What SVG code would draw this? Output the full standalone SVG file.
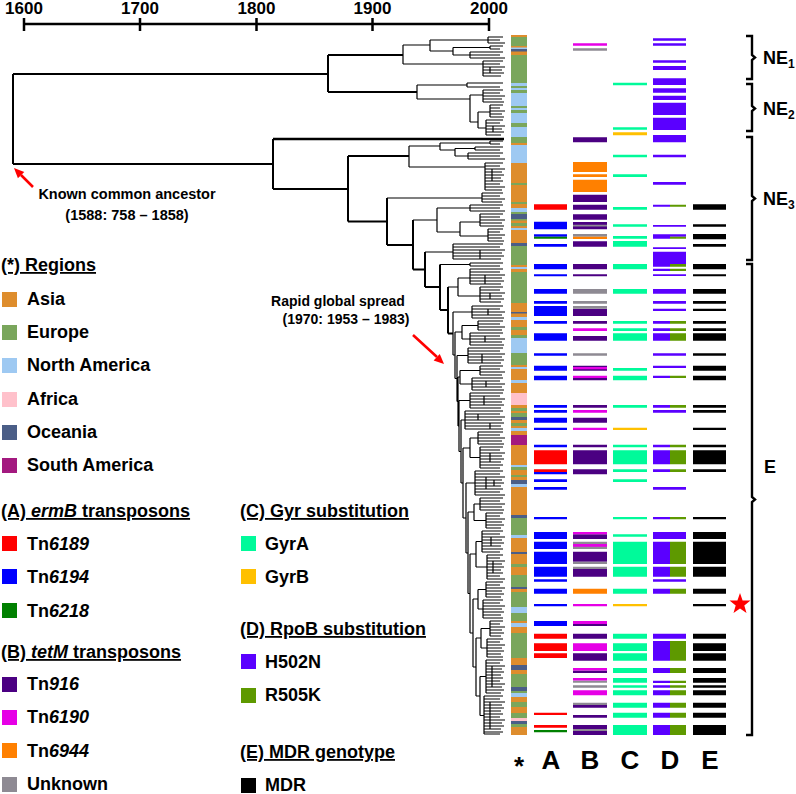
<svg xmlns="http://www.w3.org/2000/svg" width="796" height="794" viewBox="0 0 796 794">
<style>
.lb{font-family:"Liberation Sans",Arial,Helvetica,sans-serif;font-weight:bold;font-size:18px;fill:#000}
.hd{text-decoration:underline}
.an{font-family:"Liberation Sans",Arial,Helvetica,sans-serif;font-weight:bold;font-size:14px;fill:#000;text-anchor:middle}
.ax{font-family:"Liberation Sans",Arial,Helvetica,sans-serif;font-weight:bold;font-size:17px;fill:#000;text-anchor:middle}
.big{font-family:"Liberation Sans",Arial,Helvetica,sans-serif;font-weight:bold;font-size:26px;fill:#000;text-anchor:middle}
.tree{fill:none;stroke:#000;stroke-width:1.2}
.trunk{fill:none;stroke:#000;stroke-width:2}
.br{fill:none;stroke:#000;stroke-width:2.4}
.as{fill:#DE8D2D}.eu{fill:#7AA65C}.na{fill:#9EC9F2}.af{fill:#FFC1CB}.oc{fill:#4B5E87}.sa{fill:#A3197F}
.rd{fill:#FF0000}.bl{fill:#0000FF}.gn{fill:#008000}.t9{fill:#4B0082}.mg{fill:#E600E6}.or{fill:#FF8000}.gy{fill:#8E8A93}
.ga{fill:#00FA9A}.gb{fill:#FFC000}.h5{fill:#5A00FF}.r5{fill:#5E9900}.k{fill:#000}
</style>
<rect width="796" height="794" fill="#fff"/>
<g id="axis">
<path d="M24,24H489M24,18V31M140,18V31M256.5,18V31M372.5,18V31M489,18V31" fill="none" stroke="#000" stroke-width="2.5"/>
<text class="ax" x="24" y="14">1600</text><text class="ax" x="140" y="14">1700</text><text class="ax" x="256.5" y="14">1800</text><text class="ax" x="372.5" y="14">1900</text><text class="ax" x="489" y="14">2000</text>
</g>
<g id="tree">
<path class="trunk" d="M13,74V164M13,74H328M13,164H273M328,55V92M328,55H403M328,92H417M273,139V189M273,189H348M348,156V221.5M348,156H409M348,221.5H387M387,198V245M387,245H413M413,220V269.5M413,269.5H425M425,252V287M425,287H440M440,264.5V310M440,310H448M448,287V333.5M448,333.5H453"/>
<path d="M273,139H504" stroke="#000" stroke-width="2.4"/>
<path class="tree" d="M403,45V64M403,45H430M403,64H483M430,40V51M430,40H488M430,51H453M488,37V43M488,37H503M488,40H500M488,43H505M453,47.5V55M453,47.5H490M453,55H470M490,46V49M490,46H503M490,49H500M470,52V58M470,52H503M470,55H500M470,58H505M483,61V76M483,61H503M483,64H500M483,67H505M483,70H502M483,73H504M483,76H501M490,67V73
M417,85V99M417,85H467M417,99H470M467,83V87M467,83H503M467,87H500M470,95V122M470,95H483M470,122H478M483,90V102M483,90H503M483,93H500M483,96H505M483,99H502M483,102H504M478,112V128M478,112H490M478,128H486M490,105V117M490,105H503M490,108H500M490,111H505M490,114H502M490,117H504M486,120V135M486,120H503M486,123H500M486,126H505M486,129H502M486,132H504M486,135H501M493,126V132
M409,146V167M409,146H440M409,167H485M440,143V150M440,143H490M440,150H455M490,141V144M490,141H503M490,144H500M455,148.5V156M455,148.5H475M455,156H468M475,147V150M475,147H503M475,150H500M468,153V159M468,153H503M468,156H500M468,159H505M485,163V190M485,163H503M485,166H500M485,169H505M485,172H502M485,175H504M485,178H501M485,181H503M485,184H500M485,187H505M485,190H502M492,169V181
M387,198H482M482,193V202M482,193H503M482,196H500M482,199H505M482,202H502M413,220H437M437,208V232M437,208H470M437,232H460M470,205V211M470,205H503M470,208H500M470,211H505M460,222V236M460,222H480M460,236H488M480,214V226M480,214H503M480,217H500M480,220H505M480,223H502M480,226H504M488,229V241M488,229H503M488,232H500M488,235H505M488,238H502M488,241H504
M425,252H453M453,244V259M453,244H503M453,247H500M453,250H505M453,253H502M453,256H504M453,259H501M480,250V259M440,264.5H470M470,263V266M470,263H503M470,266H500M448,287H458M458,278V296M458,278H470M458,296H480M470,269V284M470,269H503M470,272H500M470,275H505M470,278H502M470,281H504M470,284H501M485,275V284M480,287V302M480,287H503M480,290H500M480,293H505M480,296H502M480,299H504M480,302H501M490,293V299
M453,312V355M453,312H472M453,355H455M455,332V378.5M455,332H462M455,378.5H457M457,355.5V401.5M457,355.5H468M457,401.5H458M458,377V426M458,377H460M458,426H459M459,400.5V451.5M459,400.5H470M459,451.5H461M461,420V483M461,420H465M461,483H463M463,448V518M463,448H470M463,518H466M466,483V553M466,483H475M466,553H468M468,512V593.5M468,512H474M468,593.5H470M470,554V633M470,554H476M470,633H473M473,599V667M473,599H478M473,667H476M476,638V696M476,638H481M476,696H480
M472,306V318M472,306H503M472,309H500M472,312H505M472,315H502M472,318H504M488,309V315
M462,325.5V339M462,325.5H478M462,339H470M478,321V330M478,321H503M478,324H500M478,327H505M478,330H502M470,333V345M470,333H503M470,336H500M470,339H505M470,342H502M470,345H504M485,336V342
M468,348V363M468,348H503M468,351H500M468,354H505M468,357H502M468,360H504M468,363H501M482,354V363
M460,370.5V384M460,370.5H480M460,384H472M480,366V375M480,366H503M480,369H500M480,372H505M480,375H502M472,378V390M472,378H503M472,381H500M472,384H505M472,387H502M472,390H504M486,381V387
M470,393V408M470,393H503M470,396H500M470,399H505M470,402H502M470,405H504M470,408H501M484,396V405
M465,411V429M465,411H503M465,414H500M465,417H505M465,420H502M465,423H504M465,426H501M465,429H503M478,414V420M490,423V429
M470,438V457.5M470,438H478M470,457.5H480M478,432V444M478,432H503M478,435H500M478,438H505M478,441H502M478,444H504M480,447V468M480,447H503M480,450H500M480,453H505M480,456H502M480,459H504M480,462H501M480,465H503M480,468H500M490,453V462
M475,471V495M475,471H503M475,474H500M475,477H505M475,480H502M475,483H504M475,486H501M475,489H503M475,492H500M475,495H505M486,477V489M494,480V486
M474,504V520.5M474,504H480M474,520.5H486M480,498V510M480,498H503M480,501H500M480,504H505M480,507H502M480,510H504M486,513V528M486,513H503M486,516H500M486,519H505M486,522H502M486,525H504M486,528H501
M476,541.5V567M476,541.5H482M476,567H487M482,531V552M482,531H503M482,534H500M482,537H505M482,540H502M482,543H504M482,546H501M482,549H503M482,552H500M491,537V546M487,555V579M487,555H503M487,558H500M487,561H505M487,564H502M487,567H504M487,570H501M487,573H503M487,576H500M487,579H505M493,561V573
M478,589.5V609M478,589.5H486M478,609H483M486,582V597M486,582H503M486,585H500M486,588H505M486,591H502M486,594H504M486,597H501M483,600V618M483,600H503M483,603H500M483,606H505M483,609H502M483,612H504M483,615H501M483,618H503
M481,628.5V648M481,628.5H490M481,648H487M490,621V636M490,621H503M490,624H500M490,627H505M490,630H502M490,633H504M490,636H501M487,639V657M487,639H503M487,642H500M487,645H505M487,648H502M487,651H504M487,654H501M487,657H503
M480,676.5V715.5M480,676.5H486M480,715.5H484M486,660V693M486,660H503M486,663H500M486,666H505M486,669H502M486,672H504M486,675H501M486,678H503M486,681H500M486,684H505M486,687H502M486,690H504M486,693H501M492,666V687M484,696V734M484,696H503M484,699H500M484,702H505M484,705H502M484,708H504M484,711H501M484,714H503M484,717H500M484,720H505M484,723H502M484,726H504M484,729H501M484,732H503M484,734H500M490,702V729"/>
</g>
<g id="region-column">
<path class="as" d="M511,35h16v700h-16z"/>
<path class="eu" d="M511,37h16v9h-16zM511,55h16v28h-16zM511,86h16v2h-16zM511,90h16v3h-16zM511,106h16v2h-16zM511,110h16v3h-16zM511,123h16v4h-16zM511,137h16v6h-16zM511,183h16v2h-16zM511,202h16v2h-16zM511,212h16v2h-16zM511,219h16v1.5h-16zM511,223h16v3h-16zM511,246h16v19h-16zM511,272h16v31h-16zM511,327h16v3h-16zM511,335h16v3h-16zM511,353h16v12h-16zM511,408h16v3h-16zM511,413h16v4h-16zM511,423h16v3h-16zM511,467h16v3h-16zM511,475h16v2h-16zM511,518h16v17h-16zM511,564h16v3h-16zM511,575h16v12h-16zM511,592h16v15h-16zM511,613h16v8h-16zM511,633h16v25h-16zM511,674h16v13h-16zM511,691h16v2h-16zM511,702h16v5h-16zM511,713h16v5h-16zM511,724h16v3h-16z"/>
<path class="na" d="M511,47.5h16v1.5h-16zM511,83h16v3h-16zM511,88h16v2h-16zM511,93h16v13h-16zM511,108h16v2h-16zM511,113h16v10h-16zM511,127h16v10h-16zM511,145h16v18h-16zM511,208h16v4h-16zM511,228h16v2h-16zM511,267h16v2h-16zM511,317h16v3h-16zM511,338h16v15h-16zM511,367h16v2h-16zM511,380h16v3h-16zM511,428h16v3h-16zM511,465h16v2h-16zM511,484h16v3h-16zM511,535h16v3h-16zM511,607h16v6h-16zM511,623h16v4h-16zM511,693h16v4h-16z"/>
<path class="oc" d="M511,49h16v2.5h-16zM511,214h16v5h-16zM511,243h16v3h-16zM511,312h16v1.5h-16zM511,417h16v3h-16zM511,480h16v4h-16zM511,515h16v3h-16zM511,552h16v2h-16zM511,587h16v2h-16zM511,665h16v5h-16zM511,687h16v4h-16zM511,721h16v3h-16z"/>
<path class="af" d="M511,393h16v12h-16zM511,718h16v3h-16z"/>
<path class="sa" d="M511,435h16v10h-16z"/>
</g>
<g id="col-A">
<path class="rd" d="M534,204.3h33v5.4h-33zM534,450.3h33v14h-33zM534,469.3h33v2.7h-33zM534,633.7h33v5h-33zM534,643.3h33v7.7h-33zM534,653.3h33v4.7h-33zM534,712.7h33v2.3h-33zM534,725h33v2.7h-33z"/>
<path class="bl" d="M534,221.7h33v7.6h-33zM534,234.3h33v2.4h-33zM534,244h33v2.7h-33zM534,264h33v5.3h-33zM534,274.3h33v2h-33zM534,289h33v4.7h-33zM534,301h33v2.7h-33zM534,306h33v10h-33zM534,321h33v2.7h-33zM534,333.3h33v7.4h-33zM534,353.3h33v2.4h-33zM534,365.7h33v5h-33zM534,375.7h33v4.6h-33zM534,405h33v2.7h-33zM534,410h33v2.7h-33zM534,417.7h33v5h-33zM534,427.7h33v2.3h-33zM534,444.7h33v2.6h-33zM534,472h33v2.3h-33zM534,479.3h33v2.7h-33zM534,487h33v2.7h-33zM534,517h33v2.3h-33zM534,532h33v7h-33zM534,541.7h33v7.3h-33zM534,551.7h33v12.3h-33zM534,566.7h33v10h-33zM534,579.3h33v2.4h-33zM534,588.7h33v5h-33zM534,604h33v2.3h-33zM534,621h33v5h-33z"/>
<path class="gn" d="M534,236.7h33v2h-33zM534,730h33v2.3h-33z"/>
</g>
<g id="col-B">
<path class="t9" d="M573,137.3h34v5h-34zM573,194.7h34v7.3h-34zM573,204.7h34v5h-34zM573,214.3h34v5.4h-34zM573,222h34v7.3h-34zM573,241.3h34v5.4h-34zM573,264h34v5.3h-34zM573,274.3h34v2h-34zM573,308.7h34v7.3h-34zM573,321h34v2.7h-34zM573,336h34v4.7h-34zM573,365.7h34v5h-34zM573,378h34v2.3h-34zM573,405h34v2.7h-34zM573,417.7h34v5h-34zM573,444.7h34v2.6h-34zM573,450.3h34v14h-34zM573,469.3h34v5h-34zM573,534.3h34v4.7h-34zM573,551.7h34v10h-34zM573,569h34v7.7h-34zM573,624h34v2h-34zM573,633.7h34v5h-34zM573,653.3h34v7.4h-34zM573,670.5h34v2.5h-34zM573,705h34v2.7h-34zM573,715h34v2.7h-34zM573,725h34v4h-34zM573,731h34v4h-34z"/>
<path class="gy" d="M573,48.3h34v2.4h-34zM573,224.8h34v1.7h-34zM573,234h34v2.7h-34zM573,289h34v4.7h-34zM573,301h34v2.7h-34zM573,306h34v2.7h-34zM573,353.3h34v2.4h-34zM573,541.7h34v7.3h-34zM573,561.7h34v2.3h-34zM573,566.7h34v2.3h-34zM573,680.5h34v2.2h-34zM573,685.3h34v2.4h-34zM573,702.7h34v2.3h-34zM573,729h34v2h-34z"/>
<path class="mg" d="M573,43.3h34v2.4h-34zM573,328.3h34v2.7h-34zM573,367h34v2.3h-34zM573,375.7h34v2.3h-34zM573,410h34v2.7h-34zM573,427.7h34v2.3h-34zM573,532h34v2.3h-34zM573,544h34v2.7h-34zM573,604h34v2.3h-34zM573,621h34v3h-34zM573,643.3h34v7.7h-34zM573,668h34v2.5h-34zM573,678h34v2.5h-34zM573,690.3h34v5h-34z"/>
<path class="or" d="M573,162h34v10h-34zM573,174.3h34v2.7h-34zM573,179.7h34v12.3h-34zM573,236.7h34v2.3h-34zM573,588.7h34v5h-34z"/>
</g>
<g id="col-C">
<path class="ga" d="M613,82.7h34v2.6h-34zM613,127.3h34v2.4h-34zM613,154.7h34v2.6h-34zM613,174.3h34v2.7h-34zM613,207h34v2.7h-34zM613,224.3h34v2.4h-34zM613,236h34v2.7h-34zM613,241h34v5.7h-34zM613,264h34v5.3h-34zM613,289h34v4.7h-34zM613,321h34v2.7h-34zM613,328.3h34v2.7h-34zM613,333.3h34v7.4h-34zM613,368h34v2.7h-34zM613,375.7h34v4.6h-34zM613,405h34v2.7h-34zM613,444.7h34v2.6h-34zM613,450.3h34v14h-34zM613,469.3h34v2.7h-34zM613,479.3h34v2.7h-34zM613,517h34v2.3h-34zM613,534.3h34v2.4h-34zM613,541.7h34v22.3h-34zM613,566.7h34v10h-34zM613,588.7h34v5h-34zM613,633.7h34v5h-34zM613,643.3h34v7.7h-34zM613,653.3h34v7.4h-34zM613,668h34v5h-34zM613,678h34v4.7h-34zM613,685.3h34v2.4h-34zM613,690.3h34v5h-34zM613,702.7h34v5h-34zM613,712.7h34v5h-34zM613,725h34v10h-34z"/>
<path class="gb" d="M613,132.3h34v3h-34zM613,427.7h34v2.3h-34zM613,604h34v2.3h-34z"/>
</g>
<g id="col-D">
<path class="h5" d="M653,38.3h33v2.4h-33zM653,43.3h33v2.4h-33zM653,60.3h33v2.4h-33zM653,66h33v4h-33zM653,78.3h33v6.7h-33zM653,88.3h33v4.4h-33zM653,95.7h33v4.3h-33zM653,102.7h33v12.3h-33zM653,117.7h33v12.3h-33zM653,135h33v7.3h-33zM653,154.7h33v2.6h-33zM653,182h33v2.7h-33zM653,225h33v1.7h-33zM653,234.3h33v2.4h-33zM653,247.3h33v1.7h-33zM653,251.7h33v12.3h-33zM653,274.3h33v1.7h-33zM653,289h33v4.7h-33zM653,301h33v2.7h-33zM653,308.7h33v2.3h-33zM653,353.3h33v2.4h-33zM653,365.7h33v2.3h-33zM653,410h33v2.7h-33zM653,487h33v2.7h-33zM653,532h33v7h-33zM653,579.3h33v2.4h-33zM653,633.7h33v5h-33z
M653,204.7h17v2h-17zM653,236.7h17v2h-17zM653,264h17v2.7h-17zM653,268.7h17v2.3h-17zM653,321h17v2.7h-17zM653,328.3h17v2.7h-17zM653,333.3h17v7.4h-17zM653,375.7h17v2.3h-17zM653,405h17v2.7h-17zM653,444.7h17v2.6h-17zM653,450.3h17v14h-17zM653,469.3h17v2.7h-17zM653,517h17v2.3h-17zM653,541.7h17v22.3h-17zM653,566.7h17v10h-17zM653,588.7h17v5h-17zM653,641h17v19.7h-17zM653,668h17v5h-17zM653,680.7h17v2.3h-17zM653,685.3h17v2.4h-17zM653,690.3h17v5h-17zM653,702.7h17v5h-17zM653,712.7h17v5h-17zM653,725h17v10h-17z"/>
<path class="r5" d="M670,204.7h16v2h-16zM670,236.7h16v2h-16zM670,264h16v2.7h-16zM670,268.7h16v2.3h-16zM670,321h16v2.7h-16zM670,328.3h16v2.7h-16zM670,333.3h16v7.4h-16zM670,375.7h16v2.3h-16zM670,405h16v2.7h-16zM670,444.7h16v2.6h-16zM670,450.3h16v14h-16zM670,469.3h16v2.7h-16zM670,517h16v2.3h-16zM670,541.7h16v22.3h-16zM670,566.7h16v10h-16zM670,588.7h16v5h-16zM670,641h16v19.7h-16zM670,668h16v5h-16zM670,680.7h16v2.3h-16zM670,685.3h16v2.4h-16zM670,690.3h16v5h-16zM670,702.7h16v5h-16zM670,712.7h16v5h-16zM670,725h16v10h-16z"/>
</g>
<g id="col-E">
<path class="k" d="M693,204.3h33v5.4h-33zM693,224.3h33v2.4h-33zM693,234h33v5.3h-33zM693,244h33v2.7h-33zM693,264h33v5.3h-33zM693,274.3h33v2h-33zM693,289h33v4.7h-33zM693,301h33v2.7h-33zM693,308.7h33v2.3h-33zM693,321h33v2.7h-33zM693,328.3h33v2.7h-33zM693,333.3h33v7.4h-33zM693,353.3h33v2.4h-33zM693,365.7h33v5h-33zM693,375.7h33v4.6h-33zM693,405h33v2.7h-33zM693,410h33v2.7h-33zM693,427.7h33v2.3h-33zM693,444.7h33v2.6h-33zM693,450.3h33v14h-33zM693,469.3h33v2.7h-33zM693,517h33v2.3h-33zM693,532h33v7h-33zM693,541.7h33v22.3h-33zM693,566.7h33v10h-33zM693,588.7h33v5h-33zM693,604h33v2.3h-33zM693,633.7h33v5h-33zM693,643.3h33v7.7h-33zM693,653.3h33v7.4h-33zM693,668h33v5h-33zM693,678h33v4.7h-33zM693,685.3h33v2.4h-33zM693,690.3h33v5h-33zM693,702.7h33v5h-33zM693,712.7h33v5h-33zM693,725h33v10h-33z"/>
</g>
<g id="column-labels">
<text class="big" x="519" y="775">*</text><text class="big" x="551" y="769">A</text><text class="big" x="590" y="769">B</text><text class="big" x="630" y="769">C</text><text class="big" x="670" y="769">D</text><text class="big" x="710" y="769">E</text>
</g>
<g id="clade-brackets">
<path class="br" d="M746,36H752V55L755,57.5L752,60V79H746M746,84H752V106L755,108.5L752,111V131H746M746,137H752V196L755,198.5L752,201V260H746M746,264H752V497L755,499.5L752,502V735H746"/>
<text class="lb" x="763" y="64">NE<tspan font-size="12" dy="4">1</tspan></text>
<text class="lb" x="763" y="115">NE<tspan font-size="12" dy="4">2</tspan></text>
<text class="lb" x="763" y="205">NE<tspan font-size="12" dy="4">3</tspan></text>
<text class="lb" x="764" y="473">E</text>
</g>
<g id="star"><polygon class="rd" points="740,593 742.6,600.4 750.5,600.6 744.3,605.4 746.5,612.9 740,608.5 733.5,612.9 735.7,605.4 729.5,600.6 737.4,600.4"/></g>
<g id="annotations">
<path d="M33,187L21,175M413,335L437,357" stroke="#FF0000" stroke-width="2.6" fill="none"/>
<polygon class="rd" points="14,168 24.3,171.9 17.9,178.3"/>
<polygon class="rd" points="444,364 433.6,360.5 439.8,353.9"/>
<text class="an" x="127" y="199" style="font-size:14.5px">Known common ancestor</text>
<text class="an" x="127" y="220" style="font-size:14.5px">(1588: 758 – 1858)</text>
<text class="an" x="338" y="306">Rapid global spread</text>
<text class="an" x="346" y="324">(1970: 1953 – 1983)</text>
</g>
<g id="legend-regions">
<text class="lb hd" x="1" y="271">(*) Regions</text>
<rect class="as" x="2" y="292" width="15" height="15"/><text class="lb" x="27" y="305">Asia</text>
<rect class="eu" x="2" y="325" width="15" height="15"/><text class="lb" x="27" y="338">Europe</text>
<rect class="na" x="2" y="358" width="15" height="15"/><text class="lb" x="27" y="371">North America</text>
<rect class="af" x="2" y="392" width="15" height="15"/><text class="lb" x="27" y="405">Africa</text>
<rect class="oc" x="2" y="425" width="15" height="15"/><text class="lb" x="27" y="438">Oceania</text>
<rect class="sa" x="2" y="458" width="15" height="15"/><text class="lb" x="27" y="471">South America</text>
</g>
<g id="legend-A">
<text class="lb hd" x="1" y="517">(A) <tspan font-style="italic">ermB</tspan> transposons</text>
<rect class="rd" x="2" y="536" width="15" height="15"/><text class="lb" x="27" y="550">Tn<tspan font-style="italic">6189</tspan></text>
<rect class="bl" x="2" y="569" width="15" height="15"/><text class="lb" x="27" y="583">Tn<tspan font-style="italic">6194</tspan></text>
<rect class="gn" x="2" y="603" width="15" height="15"/><text class="lb" x="27" y="617">Tn<tspan font-style="italic">6218</tspan></text>
</g>
<g id="legend-B">
<text class="lb hd" x="1" y="658">(B) <tspan font-style="italic">tetM</tspan> transposons</text>
<rect class="t9" x="2" y="677" width="15" height="15"/><text class="lb" x="27" y="690">Tn<tspan font-style="italic">916</tspan></text>
<rect class="mg" x="2" y="710" width="15" height="15"/><text class="lb" x="27" y="723">Tn<tspan font-style="italic">6190</tspan></text>
<rect class="or" x="2" y="743" width="15" height="15"/><text class="lb" x="27" y="757">Tn<tspan font-style="italic">6944</tspan></text>
<rect class="gy" x="2" y="777" width="15" height="15"/><text class="lb" x="27" y="790">Unknown</text>
</g>
<g id="legend-C">
<text class="lb hd" x="240" y="517">(C) Gyr substitution</text>
<rect class="ga" x="241" y="536" width="15" height="15"/><text class="lb" x="265" y="550">GyrA</text>
<rect class="gb" x="241" y="569" width="15" height="15"/><text class="lb" x="265" y="583">GyrB</text>
</g>
<g id="legend-D">
<text class="lb hd" x="240" y="635">(D) RpoB substitution</text>
<rect class="h5" x="241" y="654" width="15" height="15"/><text class="lb" x="265" y="668">H502N</text>
<rect class="r5" x="241" y="688" width="15" height="15"/><text class="lb" x="265" y="701">R505K</text>
</g>
<g id="legend-E">
<text class="lb hd" x="240" y="758">(E) MDR genotype</text>
<rect class="k" x="241" y="778" width="15" height="15"/><text class="lb" x="265" y="791">MDR</text>
</g>
</svg>
